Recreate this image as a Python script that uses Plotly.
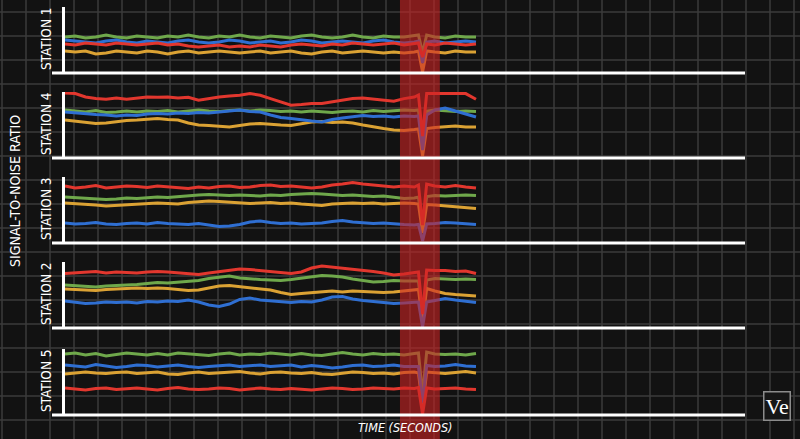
import plotly.graph_objects as go

# time axis (seconds), shared by every station
time_s = [0, 2.5, 5, 7.5, 10, 12.5, 15, 17.5, 20, 22.5, 25, 27.5, 30, 32.5, 35, 37.5,
          40, 42.5, 45, 47.5, 50, 52.5, 55, 57.5, 60, 62.5, 65, 67.5, 70, 72.5, 75,
          77.5, 80, 82.5, 85, 86, 87, 88, 90, 92.5, 95, 97.5, 100]

# station order, top to bottom
stations = ["STATION 1", "STATION 4", "STATION 3", "STATION 2", "STATION 5"]

# signal-to-noise traces
s1_green = [36, 37, 35, 36, 38, 36, 35, 37, 36, 35, 37, 36, 38, 36, 35, 37, 36, 38, 36, 35, 37, 36,
            35, 37, 38, 36, 35, 36, 38, 36, 35, 37, 36, 36, 37, 38, 20, 38, 36, 35, 37, 36, 36]
s1_blue = [33, 32, 31, 30, 32, 33, 31, 30, 32, 31, 30, 32, 33, 31, 30, 31, 33, 32, 30, 31, 32, 30,
           31, 33, 32, 30, 31, 32, 31, 30, 32, 33, 31, 30, 31, 32, 10, 31, 32, 30, 31, 32, 31]
s1_red = [29, 28, 30, 29, 28, 30, 29, 28, 29, 30, 28, 29, 27, 26, 27, 28, 26, 27, 26, 28, 27, 26,
          28, 29, 28, 27, 29, 28, 30, 29, 28, 29, 30, 28, 29, 30, 16, 29, 28, 30, 29, 28, 29]
s1_yellow = [22, 21, 22, 19, 20, 22, 21, 20, 22, 21, 19, 21, 22, 20, 21, 22, 21, 20, 21, 22, 20, 21,
             22, 20, 19, 21, 22, 20, 21, 22, 21, 20, 21, 20, 21, 22, 1, 22, 21, 20, 22, 21, 21]

s4_green = [48, 47, 46, 47.5, 45.5, 46, 47, 46, 47, 46.5, 47.5, 46, 47, 48, 47, 46.5, 47.5, 48, 47,
            48, 47.5, 46.5, 47, 46, 47, 46, 45.5, 46.5, 47, 46, 47.5, 46.5, 47, 48, 47.5, 48, 12,
            47, 48, 47, 46.5, 47, 46.5]
s4_blue = [46, 45, 44.5, 43.5, 43, 42, 43, 42.5, 44, 44.5, 44, 45, 44.5, 45.5, 45, 46, 47.5, 48,
           46.5, 46, 43, 40.5, 39.5, 38, 37, 36, 38.5, 40, 41.5, 42.5, 41.5, 42, 41, 42, 41.5, 42,
           8, 43, 48, 50, 47, 44, 41]
s4_red = [65, 64.4, 61, 59.4, 58.7, 60, 58.7, 60, 61, 60.7, 61, 60, 60.7, 57.7, 59.4, 61, 62, 62.7,
          64.4, 62.7, 59.4, 56, 52.7, 53.4, 54.4, 54.4, 56, 57.7, 59.4, 60, 58.7, 57.7, 56.7, 59.4,
          61, 63, 22, 64.4, 64.4, 65, 65, 64.4, 58.7]
s4_yellow = [38, 37, 35.5, 34.5, 35, 36.5, 37.5, 38, 39, 39.5, 38.5, 38, 35, 33, 32.5, 31.5, 31,
             32.5, 34, 34.5, 33.5, 33, 32.5, 34, 36, 36.5, 35.5, 36, 35, 33, 31, 29.5, 28, 27.5,
             28.5, 29, 2, 29.5, 30.5, 31.5, 32, 31, 31]

s3_green = [46, 45.5, 44.5, 44, 43.5, 44, 45, 44.5, 45.5, 46, 45.5, 46.5, 47, 48, 48.5, 48, 47.5,
            48, 47.5, 47, 48, 47.5, 48.5, 49, 49.5, 49, 48, 47.5, 48, 47, 46.5, 47, 45.5, 44.5, 45,
            46, 15, 46.5, 47.5, 47, 47.5, 48, 47.5]
s3_blue = [20, 19, 19.5, 20.5, 19, 18.5, 19.5, 20, 19, 20.5, 19.5, 19, 18.5, 19.5, 18, 16.5, 17,
           18.5, 21, 22, 20.5, 19.5, 20, 19, 19.5, 20, 21.5, 22.5, 21, 20, 19.5, 20, 19, 18.5, 18,
           18.5, 2, 19, 19.5, 20.5, 20, 19, 18.5]
s3_red = [57, 55, 56, 57.5, 55, 56, 57, 56.5, 55.5, 57, 56, 55, 54.5, 56, 55, 56.5, 57, 55.5, 56,
          57.5, 58, 56.5, 57, 56, 55, 56, 58, 59, 60.5, 59, 58, 57, 56, 57, 56, 58, 18, 59, 57, 56,
          57.5, 56, 55]
s3_yellow = [40, 39.5, 38.5, 38, 37, 37.5, 38.5, 39, 39.5, 40, 39.5, 39, 40.5, 41, 42, 41.5, 41,
             40, 39.5, 40, 40.5, 39.5, 40, 39, 38, 37.5, 39, 39.5, 40, 39.5, 40, 39, 39.5, 40,
             39.5, 39, 10, 38.5, 38, 37, 36.5, 35.5, 34.5]

s2_green = [43, 42.5, 41.5, 41, 42, 42.5, 42.5, 43.5, 44.5, 45.5, 45, 46, 46.5, 47.5, 49.5, 51,
            52, 50, 49, 48.5, 48, 47.5, 48.5, 50, 51.5, 52.5, 52, 51, 49, 47.5, 46, 46.5, 47.5, 47,
            46.5, 47, 10, 48, 49.5, 49, 48.5, 49, 48.5]
s2_blue = [27, 26, 24.5, 25, 26, 25.5, 26, 25, 26.5, 26, 27, 26.5, 28, 26, 23, 21.5, 24, 28.5, 30,
           28, 27, 26, 25.5, 26.5, 26, 28, 31, 31.5, 29, 27.5, 26.5, 25.5, 24.5, 25, 25.5, 26, 1,
           26, 27.5, 29.5, 28, 26.5, 25.5]
s2_red = [54.5, 55, 56, 56.5, 55, 56, 55.5, 55, 56, 56.5, 56, 55, 54, 53.5, 55, 56.5, 57.5, 59,
          58.5, 57.5, 56.5, 55.5, 54.5, 56, 60, 62, 61, 59.5, 58.5, 57.5, 56.5, 55, 53, 54, 55.5,
          56, 14, 58, 57.5, 57.5, 56.5, 57, 54.5]
s2_yellow = [39, 38.5, 38, 37.5, 38.5, 39, 39.5, 40, 39.5, 40, 39.5, 38.5, 37.5, 38, 40, 42, 42.5,
             41.5, 40.5, 39.5, 38, 35.5, 33.5, 34.5, 35.5, 36.5, 37, 36, 37, 36.5, 36, 35.5, 36,
             37, 38, 38.5, 6, 39.5, 37, 34.5, 33.5, 33, 32]

s5_green = [61, 62, 60, 61.5, 59, 60.5, 62, 61, 60, 61.5, 60, 62, 61, 60.5, 59.5, 61, 62, 60, 61,
            60.5, 62, 61, 60, 61.5, 60, 59.5, 61, 62.5, 61, 60, 61.5, 60.5, 61, 60, 61.5, 62, 20,
            63, 61, 60.5, 61, 60, 61.5]
s5_blue = [50, 49, 48, 50.5, 49, 47.5, 48.5, 50, 49.5, 48, 49, 50, 48.5, 47.5, 48.5, 49.5, 50, 48.5,
           49, 50, 48.5, 49, 50, 48, 49.5, 48.5, 47, 48, 49.5, 50, 48.5, 49, 50, 48.5, 49, 48.5, 12,
           49.5, 48.5, 49, 50.5, 49, 48.5]
s5_red = [27, 26, 25, 26.5, 27, 25.5, 26, 27, 26, 25, 26.5, 27.5, 26, 25.5, 26, 27, 26.5, 25, 26,
          27, 26, 25.5, 26.5, 26, 25, 26, 27, 26.5, 25.5, 26, 27, 26.5, 26, 27, 26.5, 27.5, 1, 27,
          26, 26.5, 27, 26, 25.5]
s5_yellow = [41, 42, 43, 42, 41.5, 42.5, 43, 41.5, 42, 43, 41, 40.5, 42, 43, 41.5, 42, 42.5, 43.5,
             42, 41, 42.5, 43, 42, 41.5, 42.5, 41, 40.5, 42, 43, 42.5, 41.5, 42, 41, 42.5, 43, 42,
             8, 43, 42, 41.5, 42.5, 43.5, 42]

series = [
    (s1_green, s1_yellow, s1_blue, s1_red),
    (s4_green, s4_yellow, s4_blue, s4_red),
    (s3_green, s3_yellow, s3_blue, s3_red),
    (s2_green, s2_yellow, s2_blue, s2_red),
    (s5_green, s5_yellow, s5_blue, s5_red),
]
colors = ["#6fa84b", "#dba234", "#2f6fd2", "#e2372e"]

# event window (seconds)
event_start, event_end = 81.5, 91.2

W, H = 800, 439
baselines = [73, 158, 243, 328, 415]   # px from top
panel_h = 66
FONT = "Liberation Sans Narrow, DejaVu Sans Condensed, Arial Narrow, sans-serif"

fig = go.Figure()
layout = dict(
    width=W, height=H, margin=dict(l=0, r=0, t=0, b=0),
    paper_bgcolor="#121212", plot_bgcolor="rgba(0,0,0,0)",
    showlegend=False, shapes=[], annotations=[],
)

for k, (b, lines) in enumerate(zip(baselines, series), start=1):
    xa = "x" if k == 1 else f"x{k}"
    ya = "y" if k == 1 else f"y{k}"
    for vals, c in zip(lines, colors):
        fig.add_trace(go.Scatter(x=time_s, y=vals, mode="lines", xaxis=xa, yaxis=ya,
                                 line=dict(color=c, width=3), hoverinfo="skip"))
    lo = (H - b) / H
    hi = (H - b + panel_h) / H
    layout["xaxis" if k == 1 else f"xaxis{k}"] = dict(
        domain=[52 / W, 745 / W], range=[-3.16, 165.45], anchor=ya,
        visible=False, matches=None if k == 1 else "x")
    layout["yaxis" if k == 1 else f"yaxis{k}"] = dict(
        domain=[lo, hi], range=[0, panel_h], anchor="free", position=63 / W,
        showline=True, linecolor="white", linewidth=2.5, showgrid=False,
        zeroline=False, showticklabels=False, ticks="")

# background grid
for gx in range(2, W, 24):
    layout["shapes"].append(dict(type="line", xref="paper", yref="paper", x0=gx / W, x1=gx / W,
                                 y0=0, y1=1, line=dict(color="#3b3b3b", width=1.5), layer="below"))
for gy in range(12, H, 24):
    layout["shapes"].append(dict(type="line", xref="paper", yref="paper", x0=0, x1=1,
                                 y0=1 - gy / H, y1=1 - gy / H,
                                 line=dict(color="#3b3b3b", width=1.5), layer="below"))

# event band
layout["shapes"].append(dict(type="rect", xref="x", yref="paper", x0=event_start, x1=event_end,
                             y0=0, y1=1, fillcolor="rgb(205,35,35)", opacity=0.6,
                             line=dict(width=0), layer="above"))

# baselines for each station
for k in range(1, 6):
    ya = "y" if k == 1 else f"y{k}"
    layout["shapes"].append(dict(type="line", xref="paper", yref=f"{ya} domain",
                                 x0=52 / W, x1=745 / W, y0=0, y1=0,
                                 line=dict(color="white", width=3), layer="above"))


def label(text, px, py, size, angle=0, family=FONT):
    return dict(text=text, x=px / W, y=1 - py / H, xref="paper", yref="paper",
                xanchor="center", yanchor="middle", showarrow=False, textangle=angle,
                font=dict(family=family, size=size, color="white"))


for name, b in zip(stations, baselines):
    layout["annotations"].append(label(name, 46, b - 34, 13.5, -90))

layout["annotations"].append(label("SIGNAL-TO-NOISE RATIO", 15, 191, 14, -90))
layout["annotations"].append(label("<i>TIME (SECONDS)</i>", 405, 427, 12.5))
ve = label("Ve", 777, 406, 22, family="Liberation Serif, DejaVu Serif, serif")
ve.update(bordercolor="#8c8c8c", borderwidth=1.5, borderpad=1, bgcolor="#161616")
layout["annotations"].append(ve)

fig.update_layout(**layout)
fig.write_html("out.html", config={"displayModeBar": False},
               post_script="document.body.style.margin='0';")
